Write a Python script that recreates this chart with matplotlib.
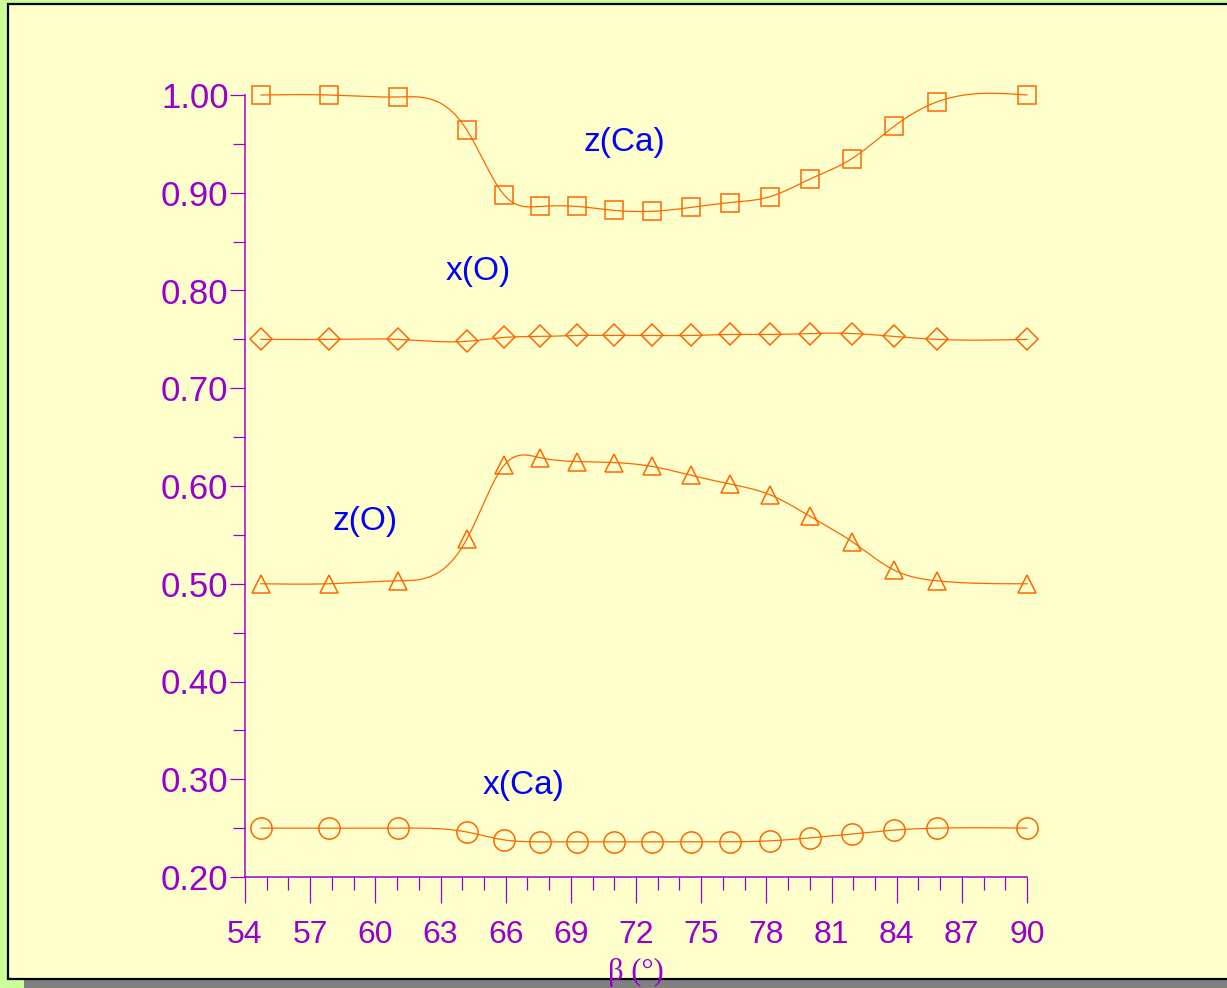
import numpy as np
import matplotlib
matplotlib.use("Agg")
import matplotlib.pyplot as plt
from matplotlib.patches import Rectangle
from matplotlib.lines import Line2D
from matplotlib.ticker import MultipleLocator, FormatStrFormatter

# Monoclinic angle beta (degrees) and fractional coordinates
beta = [54.74, 57.87, 61.04, 64.22, 65.92, 67.58, 69.29, 70.99, 72.74,
        74.53, 76.33, 78.17, 80.01, 81.95, 83.88, 85.86, 90.00]
z_ca = [1.000, 1.000, 0.998, 0.964, 0.898, 0.886, 0.886, 0.882, 0.881,
        0.885, 0.890, 0.896, 0.914, 0.935, 0.968, 0.993, 1.000]
x_o = [0.750, 0.750, 0.750, 0.748, 0.752, 0.753, 0.754, 0.754, 0.754,
       0.754, 0.755, 0.755, 0.756, 0.756, 0.753, 0.750, 0.750]
z_o = [0.500, 0.500, 0.503, 0.546, 0.621, 0.629, 0.625, 0.624, 0.620,
       0.611, 0.602, 0.591, 0.569, 0.543, 0.514, 0.503, 0.500]
x_ca = [0.250, 0.250, 0.250, 0.246, 0.238, 0.236, 0.236, 0.236, 0.236,
        0.236, 0.236, 0.237, 0.240, 0.244, 0.248, 0.250, 0.250]

series = [
    ("z(Ca)", z_ca, "s", 13.5, (71.49, 0.951)),
    ("x(O)", x_o, "D", 11.2, (64.73, 0.819)),
    ("z(O)", z_o, "^", 13.5, (59.52, 0.564)),
    ("x(Ca)", x_ca, "o", 15.3, (66.84, 0.294)),
]

ORANGE = "#FF6600"
PURPLE = "#9900CC"
BLUE = "#0000FF"


def natural_spline(x, y, n=600):
    """Natural cubic spline through (x, y), evaluated on a dense grid."""
    x = np.asarray(x, float)
    y = np.asarray(y, float)
    k = len(x)
    h = np.diff(x)
    A = np.zeros((k, k))
    r = np.zeros(k)
    A[0, 0] = A[-1, -1] = 1.0
    for i in range(1, k - 1):
        A[i, i - 1] = h[i - 1]
        A[i, i] = 2 * (h[i - 1] + h[i])
        A[i, i + 1] = h[i]
        r[i] = 3 * ((y[i + 1] - y[i]) / h[i] - (y[i] - y[i - 1]) / h[i - 1])
    c = np.linalg.solve(A, r)
    b = (np.diff(y) / h) - h * (2 * c[:-1] + c[1:]) / 3
    d = np.diff(c) / (3 * h)
    xs = np.linspace(x[0], x[-1], n)
    idx = np.clip(np.searchsorted(x, xs) - 1, 0, k - 2)
    t = xs - x[idx]
    ys = y[idx] + b[idx] * t + c[idx] * t ** 2 + d[idx] * t ** 3
    return xs, ys


W, H = 1227, 988
fig = plt.figure(figsize=(W / 100, H / 100), dpi=100)
fig.patch.set_facecolor("#CCFF99")

# Drop shadow and panel (panel runs past the right edge, framed on three sides)
fig.patches.append(Rectangle((24 / W, 0), 1.0, 8 / H, transform=fig.transFigure,
                             facecolor="#808080", edgecolor="none", zorder=-3))
left, bottom, top = 8 / W, 9 / H, 1 - 4 / H
fig.patches.append(Rectangle((left, bottom), 1.0, top - bottom,
                             transform=fig.transFigure, facecolor="#FFFFCC",
                             edgecolor="none", zorder=-2))
fig.lines.append(Line2D([1.0, left, left, 1.0], [top, top, bottom, bottom],
                        transform=fig.transFigure, color="black", lw=1.6,
                        solid_joinstyle="miter", zorder=-1))

ax = fig.add_axes([245 / W, (H - 877) / H, 782 / W, 782 / H])
ax.set_facecolor("none")
ax.set_xlim(54, 90)
ax.set_ylim(0.20, 1.00)

for name, vals, mk, ms, (tx, ty) in series:
    xs, ys = natural_spline(beta, vals)
    ax.plot(xs, ys, color=ORANGE, lw=0.9, clip_on=False, zorder=3)
    ax.plot(beta, vals, linestyle="none", marker=mk, ms=ms, mfc="none",
            mec=ORANGE, mew=1.1, clip_on=False, zorder=4)
    ax.text(tx, ty, name, color=BLUE, fontsize=24, family="Liberation Sans",
            ha="center", va="center")

for side in ("top", "right"):
    ax.spines[side].set_visible(False)
for side in ("left", "bottom"):
    ax.spines[side].set_color(PURPLE)
    ax.spines[side].set_linewidth(1.1)

ax.xaxis.set_major_locator(MultipleLocator(3))
ax.xaxis.set_minor_locator(MultipleLocator(1))
ax.yaxis.set_major_locator(MultipleLocator(0.1))
ax.yaxis.set_minor_locator(MultipleLocator(0.05))
ax.yaxis.set_major_formatter(FormatStrFormatter("%.2f"))

ax.tick_params(axis="x", which="major", direction="out", length=18.7, width=0.9,
               color=PURPLE, labelcolor=PURPLE, labelsize=23, pad=12)
ax.tick_params(axis="x", which="minor", direction="out", length=9.4, width=0.9,
               color=PURPLE)
ax.tick_params(axis="y", which="major", direction="out", length=10.8, width=0.9,
               color=PURPLE, labelcolor=PURPLE, labelsize=25, pad=1)
ax.tick_params(axis="y", which="minor", direction="out", length=8.6, width=0.9,
               color=PURPLE)
for lab in ax.get_xticklabels() + ax.get_yticklabels():
    lab.set_family("Liberation Sans")

fig.text(636 / W, 1 - 972 / H, "\u03b2 (\u00b0)", color=PURPLE, fontsize=22,
         family="Liberation Serif", ha="center", va="center", zorder=5)

fig.savefig("out.png", dpi=100, facecolor=fig.get_facecolor())
